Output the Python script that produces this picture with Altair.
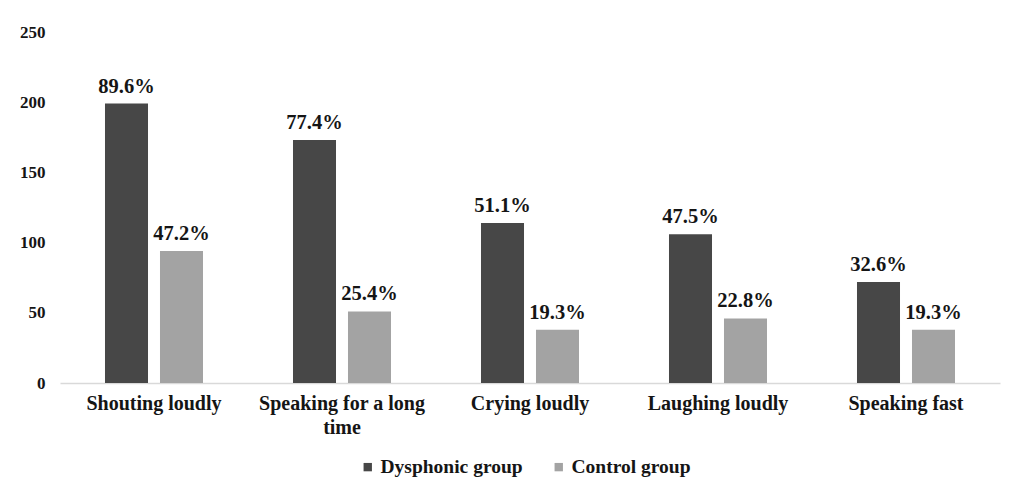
import altair as alt
import pandas as pd

categories = ["Shouting loudly", "Speaking for a long time", "Crying loudly",
              "Laughing loudly", "Speaking fast"]
groups = ["Dysphonic group", "Control group"]
dysphonic = [199, 173, 114, 106, 72]
control = [94, 51, 38, 46, 38]
dysphonic_labels = ["89.6%", "77.4%", "51.1%", "47.5%", "32.6%"]
control_labels = ["47.2%", "25.4%", "19.3%", "22.8%", "19.3%"]
y_ticks = [0, 50, 100, 150, 200, 250]

rows = []
for i, c in enumerate(categories):
    rows.append({"category": c, "group": groups[0], "value": dysphonic[i], "label": dysphonic_labels[i]})
    rows.append({"category": c, "group": groups[1], "value": control[i], "label": control_labels[i]})
df = pd.DataFrame(rows)

FONT = "Liberation Serif"
TXT = "#151515"

x = alt.X(
    "category:N", sort=categories,
    scale=alt.Scale(paddingInner=0, paddingOuter=0),
    axis=alt.Axis(
        title=None, labelAngle=0, ticks=False, domainColor="#d9d9d9", domainWidth=1.5,
        labelPadding=10, labelFontSize=20, labelFontWeight="bold", labelFont=FONT,
        labelColor=TXT, labelLimit=400, labelLineHeight=24,
        labelExpr="datum.value == 'Speaking for a long time' ? ['Speaking for a long', 'time'] : datum.value",
    ),
)
xoff = alt.XOffset("group:N", sort=groups,
                   scale=alt.Scale(paddingInner=0.218, paddingOuter=0.818))
y = alt.Y(
    "value:Q", scale=alt.Scale(domain=[0, 250]),
    axis=alt.Axis(
        title=None, values=y_ticks, grid=False, domain=False, ticks=False,
        labelPadding=15, labelFontSize=17, labelFontWeight="bold", labelFont=FONT,
        labelColor=TXT,
    ),
)
color = alt.Color(
    "group:N", sort=groups,
    scale=alt.Scale(domain=groups, range=["#474747", "#a3a3a3"]),
    legend=alt.Legend(
        title=None, orient="none", legendX=298, legendY=425, direction="horizontal",
        symbolType="square", symbolSize=70, symbolStrokeWidth=0, labelFontSize=19.5,
        labelFont=FONT, labelFontWeight="bold", labelColor=TXT, columnPadding=26,
        labelOffset=3,
    ),
)

bars = alt.Chart(df).mark_bar().encode(x=x, xOffset=xoff, y=y, color=color)
text = alt.Chart(df).mark_text(
    dy=-7, baseline="bottom", fontSize=20.5, fontWeight="bold", font=FONT, color=TXT
).encode(x=x, xOffset=xoff, y=y, text="label:N")

chart = (
    alt.layer(bars, text)
    .properties(width=940, height=351,
                autosize=alt.AutoSizeParams(type="none"),
                padding={"left": 52, "top": 24, "right": 10, "bottom": 102},
                background="white")
    .configure_view(stroke="transparent", strokeWidth=0)
)

chart.save("out.html", embed_options={"renderer": "svg", "actions": False})
